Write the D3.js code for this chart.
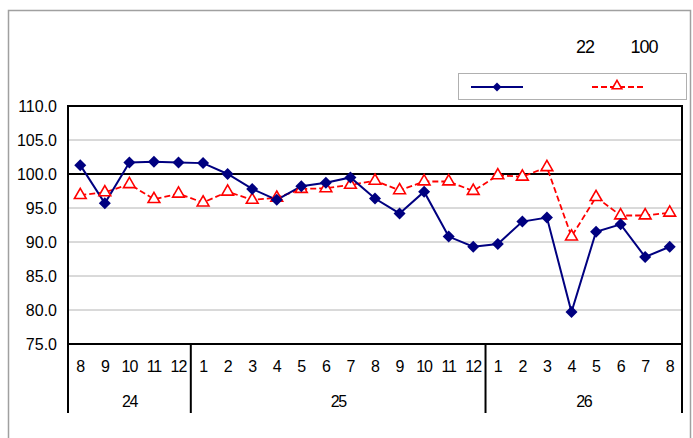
<!DOCTYPE html>
<html>
<head>
<meta charset="utf-8">
<script src="https://cdn.jsdelivr.net/npm/d3@7"></script>
<style>
  body { margin: 0; background: #fff; }
  svg text { font-family: "Liberation Sans", Arial, sans-serif; fill: #000; }
</style>
</head>
<body>
<script>
// month labels and the year groups under them
const months = [8, 9, 10, 11, 12, 1, 2, 3, 4, 5, 6, 7, 8, 9, 10, 11, 12, 1, 2, 3, 4, 5, 6, 7, 8]
const years = [
  {label: "24", start: 0, count: 5},
  {label: "25", start: 5, count: 12},
  {label: "26", start: 17, count: 8}
]
// blue series (diamonds, solid)
const seriesA = [101.3, 95.7, 101.7, 101.8, 101.7, 101.6, 100.0, 97.8, 96.2, 98.2, 98.7, 99.5,
  96.4, 94.2, 97.4, 90.8, 89.3, 89.7, 93.0, 93.6, 79.7, 91.5, 92.6, 87.8, 89.3]
// red series (triangles, dashed)
const seriesB = [96.9, 97.3, 98.5, 96.3, 97.1, 95.8, 97.4, 96.2, 96.5, 97.8, 97.9, 98.4,
  99.0, 97.6, 98.9, 98.9, 97.5, 99.8, 99.6, 101.0, 90.8, 96.6, 93.9, 93.9, 94.3]
const yTicks = [75, 80, 85, 90, 95, 100, 105, 110]

const W = 693, H = 438
const plot = {left: 68, right: 682, top: 106, bottom: 344}

const svg = d3.select("body").append("svg")
  .attr("width", W)
  .attr("height", H)

// outer chart frame
svg.append("rect")
  .attr("x", 8.5).attr("y", 10.5)
  .attr("width", 682).attr("height", 440)
  .attr("fill", "none")
  .attr("stroke", "#a0a0a0")
  .attr("stroke-width", 1.5)

const xScale = d3.scaleBand()
  .domain(d3.range(months.length))
  .range([plot.left, plot.right])

const yScale = d3.scaleLinear()
  .domain([75, 110])
  .range([plot.bottom, plot.top])

const cx = i => xScale(i) + xScale.bandwidth() / 2

// gridlines
svg.append("g").selectAll("line")
  .data(yTicks.filter(t => t != 75 && t != 110 && t != 100))
  .enter().append("line")
    .attr("x1", plot.left).attr("x2", plot.right)
    .attr("y1", d => yScale(d)).attr("y2", d => yScale(d))
    .attr("stroke", "#b4b4b4")
    .attr("stroke-width", 1)

// 100 reference line
svg.append("line")
  .attr("x1", plot.left).attr("x2", plot.right)
  .attr("y1", yScale(100)).attr("y2", yScale(100))
  .attr("stroke", "#000")
  .attr("stroke-width", 2)

// plot frame
svg.append("rect")
  .attr("x", plot.left).attr("y", plot.top)
  .attr("width", plot.right - plot.left).attr("height", plot.bottom - plot.top)
  .attr("fill", "none")
  .attr("stroke", "#000")
  .attr("stroke-width", 2)

// y axis labels
svg.append("g").selectAll("text")
  .data(yTicks)
  .enter().append("text")
    .attr("x", 57)
    .attr("y", d => yScale(d))
    .attr("dy", "0.36em")
    .attr("text-anchor", "end")
    .attr("font-size", "16px")
    .text(d => d.toFixed(1))

// category table under the plot
const tableBottom = 413
const dividers = years.map(y => y.start).concat([months.length])
svg.append("g").selectAll("line")
  .data(dividers)
  .enter().append("line")
    .attr("x1", d => d == months.length ? plot.right : xScale(d))
    .attr("x2", d => d == months.length ? plot.right : xScale(d))
    .attr("y1", plot.bottom).attr("y2", tableBottom)
    .attr("stroke", "#000")
    .attr("stroke-width", 2)

svg.append("g").selectAll("text")
  .data(months)
  .enter().append("text")
    .attr("x", (d, i) => cx(i))
    .attr("y", 366)
    .attr("dy", "0.36em")
    .attr("text-anchor", "middle")
    .attr("font-size", "16px")
    .attr("letter-spacing", "-1px")
    .text(d => d)

svg.append("g").selectAll("text")
  .data(years)
  .enter().append("text")
    .attr("x", d => (xScale(d.start) + (d.start + d.count == months.length ? plot.right : xScale(d.start + d.count))) / 2)
    .attr("y", 401)
    .attr("dy", "0.36em")
    .attr("text-anchor", "middle")
    .attr("font-size", "16px")
    .attr("letter-spacing", "-1.5px")
    .text(d => d.label)

// lines
const line = d3.line()
  .x((d, i) => cx(i))
  .y(d => yScale(d))

svg.append("path")
  .datum(seriesB)
  .attr("d", line)
  .attr("fill", "none")
  .attr("stroke", "#ff0000")
  .attr("stroke-width", 1.8)
  .attr("stroke-dasharray", "6,3")

svg.append("path")
  .datum(seriesA)
  .attr("d", line)
  .attr("fill", "none")
  .attr("stroke", "#000080")
  .attr("stroke-width", 2)

const diamond = d3.symbol().type(d3.symbolSquare).size(72)
const triangle = d3.symbol().type(d3.symbolTriangle).size(60)

svg.append("g").selectAll("path")
  .data(seriesB)
  .enter().append("path")
    .attr("d", triangle)
    .attr("transform", (d, i) => "translate(" + cx(i) + "," + yScale(d) + ")")
    .attr("fill", "#fff")
    .attr("stroke", "#ff0000")
    .attr("stroke-width", 1.6)

svg.append("g").selectAll("path")
  .data(seriesA)
  .enter().append("path")
    .attr("d", diamond)
    .attr("transform", (d, i) => "translate(" + cx(i) + "," + yScale(d) + ") rotate(45)")
    .attr("fill", "#000080")

// header texts
svg.append("text")
  .attr("x", 585).attr("y", 53)
  .attr("text-anchor", "middle")
  .attr("font-size", "18px")
  .attr("letter-spacing", "-1px")
  .text("22")
svg.append("text")
  .attr("x", 644).attr("y", 53)
  .attr("text-anchor", "middle")
  .attr("font-size", "18px")
  .attr("letter-spacing", "-1px")
  .text("100")

// legend
const legend = svg.append("g")
legend.append("rect")
  .attr("x", 458.5).attr("y", 73.5)
  .attr("width", 228).attr("height", 26)
  .attr("fill", "#fff")
  .attr("stroke", "#b0b0b0")
  .attr("stroke-width", 1)
legend.append("line")
  .attr("x1", 471).attr("x2", 523).attr("y1", 87).attr("y2", 87)
  .attr("stroke", "#000080").attr("stroke-width", 2)
legend.append("path")
  .attr("d", d3.symbol().type(d3.symbolSquare).size(40))
  .attr("transform", "translate(497,87) rotate(45)")
  .attr("fill", "#000080")
legend.append("line")
  .attr("x1", 592).attr("x2", 643).attr("y1", 87).attr("y2", 87)
  .attr("stroke", "#ff0000").attr("stroke-width", 1.8)
  .attr("stroke-dasharray", "6,3")
legend.append("path")
  .attr("d", d3.symbol().type(d3.symbolTriangle).size(40))
  .attr("transform", "translate(617,86)")
  .attr("fill", "#fff")
  .attr("stroke", "#ff0000").attr("stroke-width", 1.6)
</script>
</body>
</html>
